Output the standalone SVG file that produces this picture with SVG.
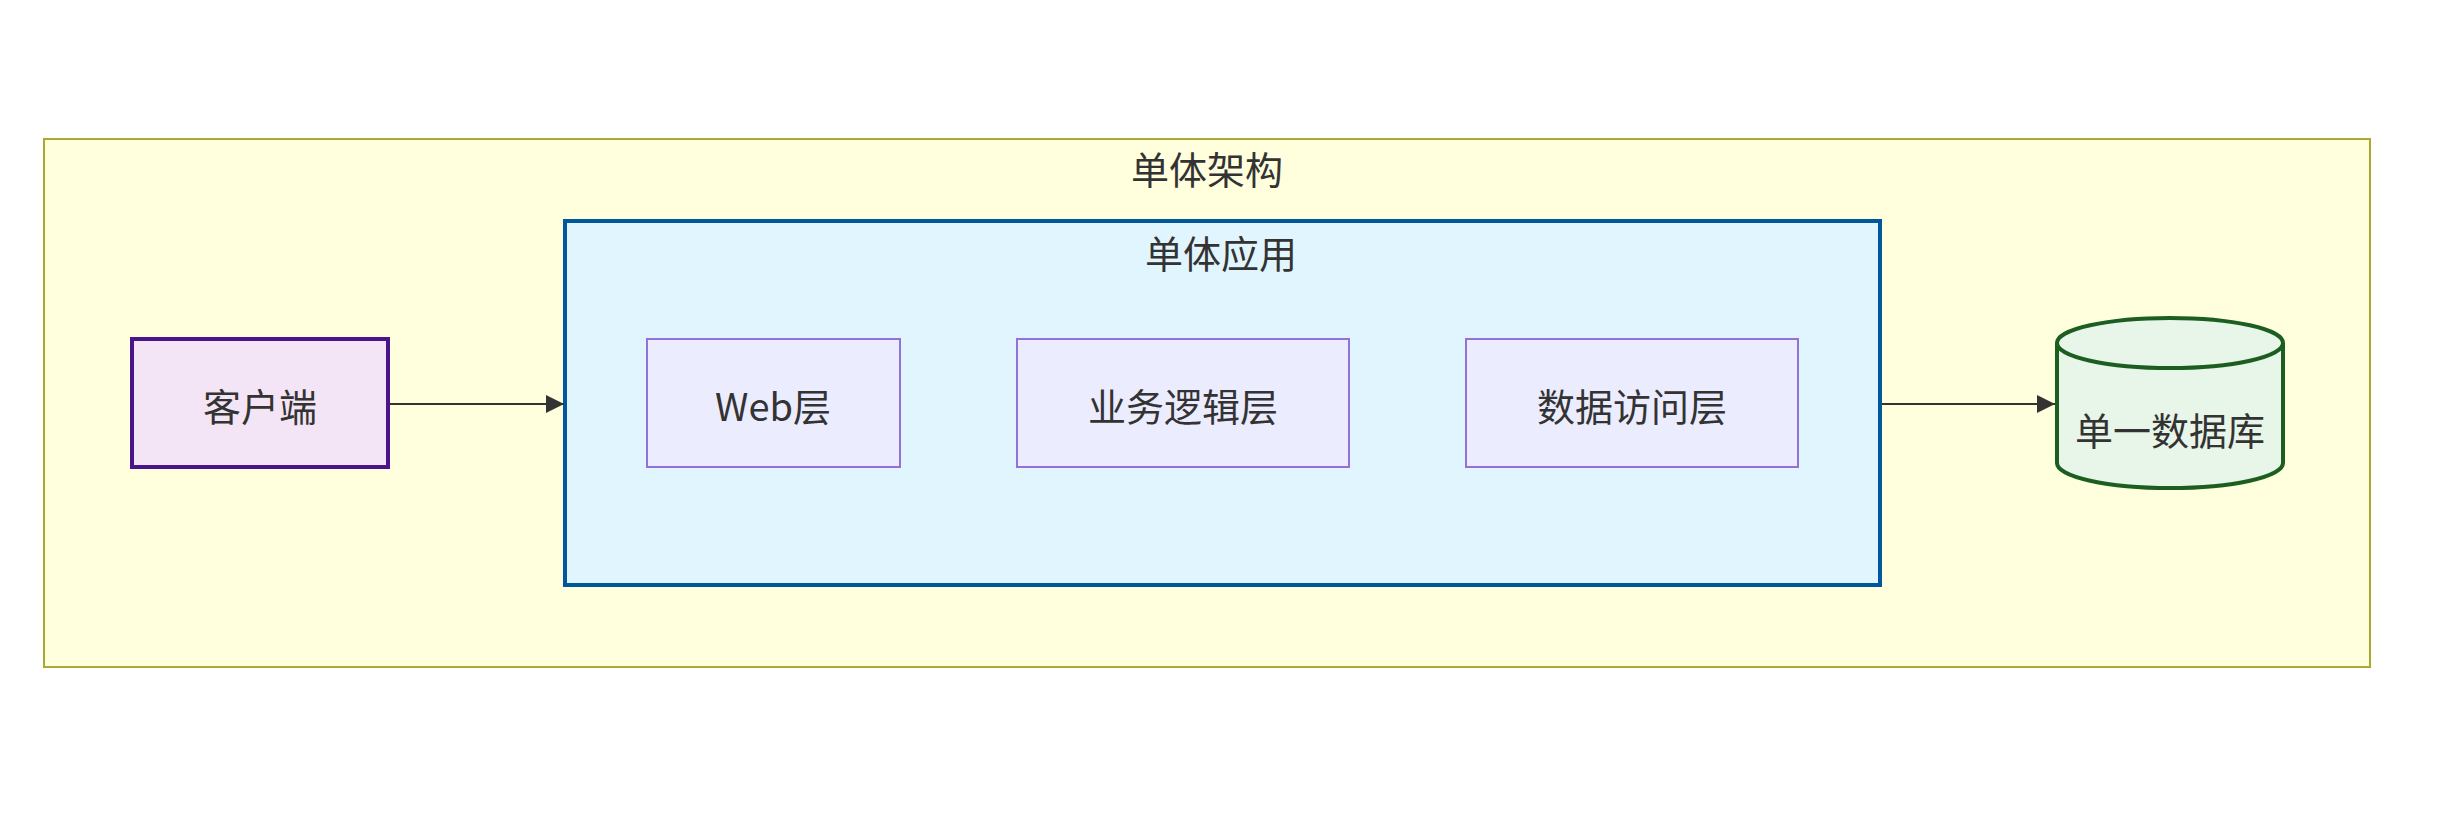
<svg xmlns="http://www.w3.org/2000/svg" width="2445" height="815" viewBox="0 0 2445 815">
<style>
text{font-family:"Noto Sans CJK SC","Liberation Sans",sans-serif;font-size:38px;fill:#333;text-anchor:middle;dominant-baseline:central}
.layer{fill:#ececff;stroke:#9370db;stroke-width:2}
.edge{stroke:#333;stroke-width:2;fill:none}
</style>
<defs><marker id="a" viewBox="0 0 12 12" refX="12" refY="6" markerWidth="18" markerHeight="18" markerUnits="userSpaceOnUse" orient="auto"><path d="M0,0L12,6L0,12z" fill="#333"/></marker></defs>
<rect width="2445" height="815" fill="#fff"/>
<g id="mono"><rect x="44" y="139" width="2326" height="528" fill="#ffffde" stroke="#aaaa33" stroke-width="2"/><text x="1207" y="167">单体架构</text></g>
<g id="app"><rect x="565" y="221" width="1315" height="364" fill="#e1f5fe" stroke="#01579b" stroke-width="4"/><text x="1221" y="251">单体应用</text></g>
<g id="client"><rect x="132" y="339" width="256" height="128" fill="#f3e5f5" stroke="#4a148c" stroke-width="4"/><text x="260" y="404">客户端</text></g>
<g id="web"><rect class="layer" x="647" y="339" width="253" height="128"/><text x="773" y="404">Web层</text></g>
<g id="biz"><rect class="layer" x="1017" y="339" width="332" height="128"/><text x="1183" y="404">业务逻辑层</text></g>
<g id="dal"><rect class="layer" x="1466" y="339" width="332" height="128"/><text x="1632" y="404">数据访问层</text></g>
<g id="db"><path d="M2057,343 a113,25 0 0 1 226,0 v120 a113,25 0 0 1 -226,0 z" fill="#e8f5e9" stroke="#1b5e20" stroke-width="4"/><path d="M2057,343 a113,25 0 0 0 226,0" fill="none" stroke="#1b5e20" stroke-width="4"/><text x="2170" y="428">单一数据库</text></g>
<g id="edges"><path class="edge" d="M390,404H564" marker-end="url(#a)"/><path class="edge" d="M1882,404H2055" marker-end="url(#a)"/></g>
</svg>
